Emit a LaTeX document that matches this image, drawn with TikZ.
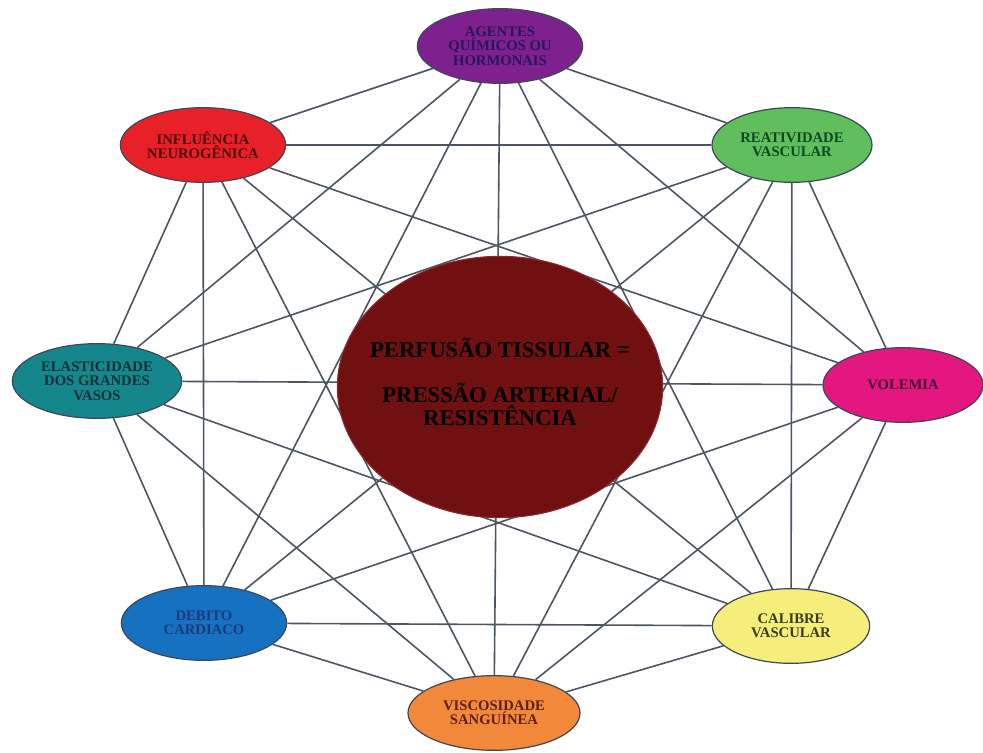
\documentclass[tikz,border=0pt]{standalone}
\usepackage{fontspec}
\setmainfont{Liberation Serif}
\definecolor{linegray}{RGB}{76,86,98}
\definecolor{rimgray}{RGB}{60,72,86}
\definecolor{purplefill}{RGB}{126,32,142}
\definecolor{redfill}{RGB}{232,32,40}
\definecolor{greenfill}{RGB}{96,190,92}
\definecolor{tealfill}{RGB}{20,134,140}
\definecolor{magentafill}{RGB}{228,22,128}
\definecolor{bluefill}{RGB}{22,114,192}
\definecolor{yellowfill}{RGB}{246,238,122}
\definecolor{orangefill}{RGB}{242,136,58}
\definecolor{centerfill}{RGB}{112,16,16}
\usetikzlibrary{shapes.geometric}

\begin{document}
\begin{tikzpicture}[x=0.75pt, y=-0.75pt,
  factor/.style={ellipse, draw=rimgray, line width=0.9pt, inner sep=0pt, minimum width=124pt, minimum height=56pt, align=center, font=\bfseries\fontsize{11}{10.8}\selectfont},
  core/.style={ellipse, draw=rimgray!60!red, line width=0.8pt, fill=centerfill, inner sep=0pt, minimum width=244pt, minimum height=196pt},
  coretext/.style={align=center, font=\bfseries\fontsize{17}{17}\selectfont},
  link/.style={draw=linegray, line width=1.2pt}
]
  \useasboundingbox (0,0) rectangle (983,753);

  \node[factor, fill=purplefill, text={rgb,255:red,40;green,22;blue,90}] (agentes) at (500,46) {AGENTES\\QUÍMICOS OU\\HORMONAIS};
  \node[factor, fill=redfill, text={rgb,255:red,78;green,10;blue,10}] (influencia) at (203,145) {INFLUÊNCIA\\NEUROGÊNICA};
  \node[factor, fill=greenfill, minimum width=120pt, text={rgb,255:red,10;green,74;blue,34}] (reatividade) at (792,145) {REATIVIDADE\\VASCULAR};
  \node[factor, fill=tealfill, minimum width=127pt, text={rgb,255:red,10;green,48;blue,56}] (elasticidade) at (97,381) {ELASTICIDADE\\DOS GRANDES\\VASOS};
  \node[factor, fill=magentafill, minimum width=120pt, text={rgb,255:red,62;green,16;blue,48}] (volemia) at (903,385) {VOLEMIA};
  \node[factor, fill=bluefill, text={rgb,255:red,26;green,58;blue,122}] (debito) at (204,623) {DEBITO\\CARDIACO};
  \node[factor, fill=yellowfill, minimum width=118pt, text={rgb,255:red,58;green,58;blue,32}] (calibre) at (791,626) {CALIBRE\\VASCULAR};
  \node[factor, fill=orangefill, minimum width=129pt, text={rgb,255:red,90;green,32;blue,16}] (viscosidade) at (494,713) {VISCOSIDADE\\SANGUÍNEA};

  % every factor linked to every other
  \draw[link] (agentes) -- (influencia);
  \draw[link] (agentes) -- (reatividade);
  \draw[link] (agentes) -- (elasticidade);
  \draw[link] (agentes) -- (volemia);
  \draw[link] (agentes) -- (debito);
  \draw[link] (agentes) -- (calibre);
  \draw[link] (agentes) -- (viscosidade);
  \draw[link] (influencia) -- (reatividade);
  \draw[link] (influencia) -- (elasticidade);
  \draw[link] (influencia) -- (volemia);
  \draw[link] (influencia) -- (debito);
  \draw[link] (influencia) -- (calibre);
  \draw[link] (influencia) -- (viscosidade);
  \draw[link] (reatividade) -- (elasticidade);
  \draw[link] (reatividade) -- (volemia);
  \draw[link] (reatividade) -- (debito);
  \draw[link] (reatividade) -- (calibre);
  \draw[link] (reatividade) -- (viscosidade);
  \draw[link] (elasticidade) -- (volemia);
  \draw[link] (elasticidade) -- (debito);
  \draw[link] (elasticidade) -- (calibre);
  \draw[link] (elasticidade) -- (viscosidade);
  \draw[link] (volemia) -- (debito);
  \draw[link] (volemia) -- (calibre);
  \draw[link] (volemia) -- (viscosidade);
  \draw[link] (debito) -- (calibre);
  \draw[link] (debito) -- (viscosidade);
  \draw[link] (calibre) -- (viscosidade);

  % central circle on top of the links
  \node[core, label={[coretext, yshift=4pt]center:PERFUSÃO TISSULAR =\\[17pt]PRESSÃO ARTERIAL/\\RESISTÊNCIA}] (perfusao) at (500,387) {};
\end{tikzpicture}
\end{document}
